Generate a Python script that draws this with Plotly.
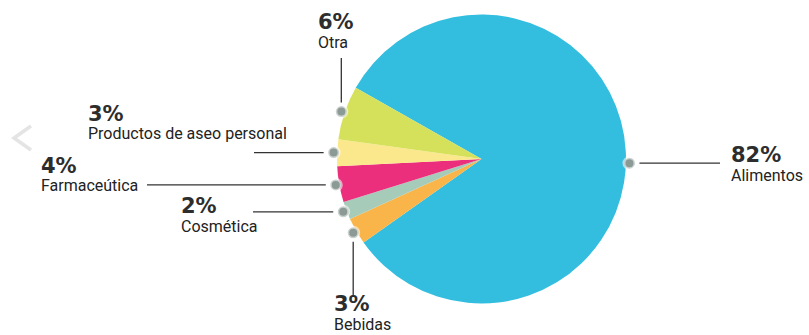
import math
import plotly.graph_objects as go

# ---- data ----
categories = ["Alimentos", "Bebidas", "Cosmética", "Farmaceútica",
              "Productos de aseo personal", "Otra"]
values = [82, 3, 2, 4, 3, 6]
pct_labels = ["82%", "3%", "2%", "4%", "3%", "6%"]
colors = ["#33BEE0", "#F9B54A", "#A6CBB9", "#EC2F7C", "#FBE88C", "#D6E15B"]

# ---- layout / styling ----
W, H = 809, 335
CX, CY, R = 481.5, 159.0, 144.5
ROTATION = 299.5
DOT_R = 148.0
DOT_SIZE = 5.5
dot_angle_offset = [4.5, 0, 0, 0, 0, 0]
# label placement: (mode, text-left-x, pct-mid-y, name-mid-y, line-end)
label_pos = [
    ("h", 730, 155, 175, 720),
    ("v", 333, 303.5, 324.5, 297),
    ("h", 180, 206, 226, 253),
    ("h", 40, 166, 185, 147),
    ("h", 87, 114, 133, 254),
    ("v", 317, 21.5, 42.5, 58),
]
PCT_FONT = dict(family="DejaVu Sans", size=21, color="#2d2d2d")
NAME_FONT = dict(family="Roboto", size=16, color="#222222")

fig = go.Figure()
fig.add_trace(go.Pie(
    labels=categories, values=values, sort=False, direction="clockwise",
    rotation=ROTATION, marker=dict(colors=colors, line=dict(width=0)),
    textinfo="none", hoverinfo="label+percent", showlegend=False,
    domain=dict(x=[(CX - R) / W, (CX + R) / W],
                y=[(H - CY - R) / H, (H - CY + R) / H]),
))

total = sum(values)
cum = 0.0
shapes = []
annotations = []
for i, v in enumerate(values):
    mid = ROTATION + 360.0 * (cum + v / 2.0) / total + dot_angle_offset[i]
    cum += v
    th = math.radians(mid)
    dx = CX + DOT_R * math.sin(th)
    dy = CY - DOT_R * math.cos(th)
    mode, tx, py, ny, lend = label_pos[i]
    # leader line
    if mode == "h":
        xs = [dx + 10, lend] if tx > CX else [lend, dx - 10]
        ys = [dy, dy]
    else:
        ys = [lend, dy - 9] if dy < CY else [dy + 9, lend]
        xs = [dx, dx]
    fig.add_trace(go.Scatter(x=xs, y=ys, mode="lines",
                             line=dict(color="#333333", width=1.3),
                             hoverinfo="skip", showlegend=False))
    # dot
    shapes.append(dict(type="circle", xref="x", yref="y", layer="above",
                       x0=dx - DOT_SIZE, x1=dx + DOT_SIZE,
                       y0=dy - DOT_SIZE, y1=dy + DOT_SIZE,
                       fillcolor="#8C9A96",
                       line=dict(color="rgba(255,255,255,0.55)", width=3)))
    annotations.append(dict(x=tx, y=py, xref="x", yref="y", xanchor="left",
                            yanchor="middle", showarrow=False, borderpad=0,
                            text="<b>%s</b>" % pct_labels[i], font=PCT_FONT))
    annotations.append(dict(x=tx, y=ny, xref="x", yref="y", xanchor="left",
                            yanchor="middle", showarrow=False, borderpad=0,
                            text=categories[i], font=NAME_FONT))

# faint carousel chevron
fig.add_trace(go.Scatter(x=[31, 14, 31], y=[126, 138, 150], mode="lines",
                         line=dict(color="#E4E4E4", width=3.5),
                         hoverinfo="skip", showlegend=False))

fig.update_layout(
    width=W, height=H, margin=dict(l=0, r=0, t=0, b=0),
    paper_bgcolor="white", plot_bgcolor="rgba(0,0,0,0)",
    xaxis=dict(range=[0, W], visible=False, fixedrange=True, domain=[0, 1]),
    yaxis=dict(range=[H, 0], visible=False, fixedrange=True, domain=[0, 1]),
    shapes=shapes, annotations=annotations, showlegend=False,
)

fig.write_html("out.html")
